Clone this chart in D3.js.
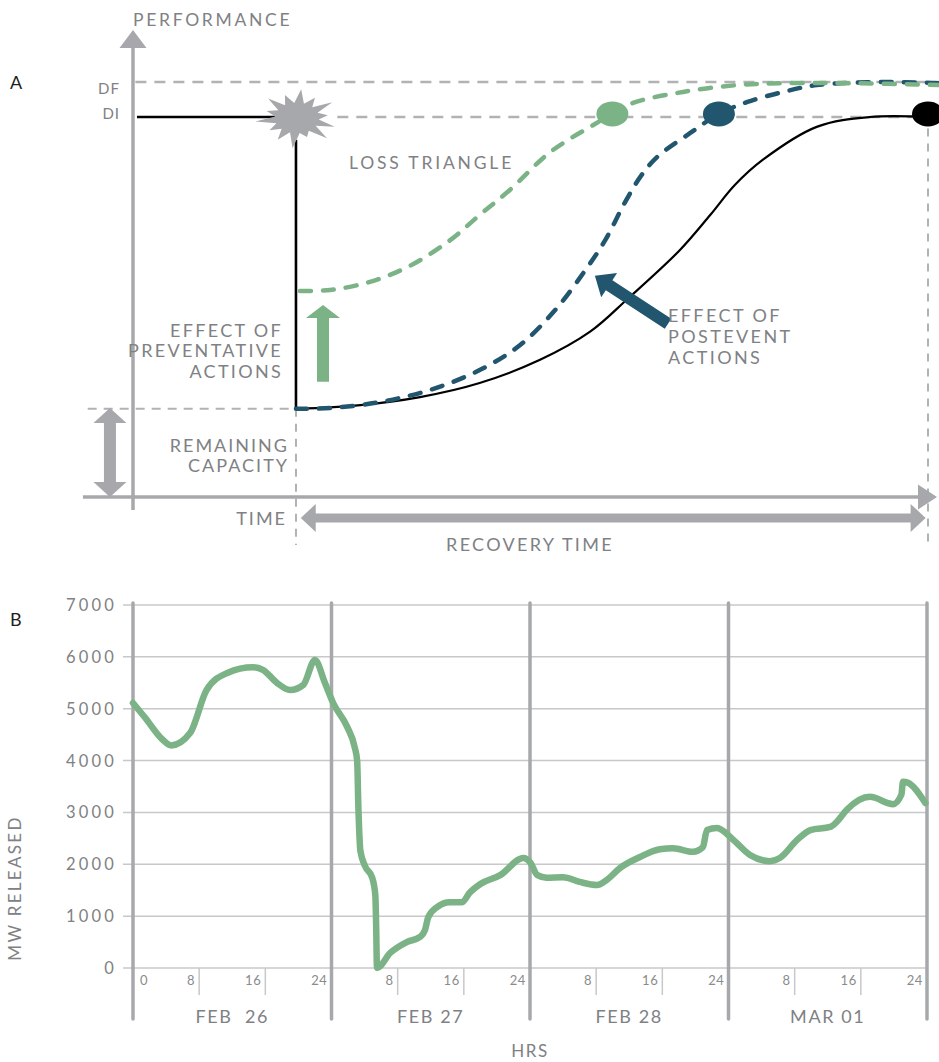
<!DOCTYPE html>
<html><head><meta charset="utf-8">
<script src="https://cdn.jsdelivr.net/npm/d3@7"></script>
<style>body{margin:0;background:#fff}svg{display:block}text{font-family:Lato,"Open Sans",sans-serif;white-space:pre}</style>
</head><body><svg id="c" width="939" height="1062"></svg>
<script>
// ---------- Panel A (conceptual resilience curve) ----------
const levelDI = 100, levelDF = 109.2, eventTime = 20.5, remainingCap = 23.2, recoveryEnd = 100;
const blackPreT = [0.5, 19];
const blackRecT = [20.5, 28.6, 36.1, 43.6, 51.2, 57.5, 62.3, 68.8, 72.6, 75.7, 79.2, 86.0, 92.7, 100];
const blackRecV = [23.2, 24.2, 26.3, 30.0, 36.1, 43.5, 52.3, 65.0, 74.2, 82.1, 88.7, 97.4, 100, 100];
const greenT = [21.0, 24.8, 29.8, 34.8, 39.9, 43.6, 47.4, 52.5, 57.9, 60.3, 62.9, 69.2, 76.0, 81.8, 90.2, 101.4];
const greenV = [54.2, 54.5, 56.6, 60.8, 67.6, 74.2, 80.8, 90.8, 97.9, 100.8, 103.7, 106.6, 108.4, 108.9, 108.9, 108.4];
const blueT = [20.5, 24.8, 31.1, 37.4, 43.6, 48.7, 53.1, 56.9, 59.4, 61.9, 63.9, 66.0, 70.1, 73.7, 77.2, 81.8, 86.0, 94.3, 101.4];
const blueV = [23.2, 23.4, 25.0, 28.2, 33.4, 40.0, 49.2, 59.7, 67.6, 77.6, 84.5, 89.6, 95.8, 100.8, 103.9, 106.6, 108.4, 109.2, 108.9];
const markerT = [60.3, 73.7, 100];
const markerV = [100.8, 100.8, 100.8];

// ---------- Panel B (MW released) ----------
const dayLabels = ["FEB  26", "FEB 27", "FEB 28", "MAR 01"];
const mwTicks = [0, 1000, 2000, 3000, 4000, 5000, 6000, 7000];
const hourTicks = [8, 16, 24];
const hours = [0, 1.4, 3.6, 4.6, 6.9, 8.9, 11.4, 14.5, 15.7, 17.4, 19.0, 20.6, 22.0, 23.2, 24.2, 25.9, 26.8, 27.1, 27.25, 27.5, 28.1, 28.9, 29.3, 29.4, 29.5, 31.1, 33.1, 34.7, 35.3, 35.7, 36.8, 38.3, 39.8, 40.7, 42.0, 44.4, 47.2, 48.0, 48.9, 50.0, 52.0, 54.0, 56.1, 57.3, 58.9, 61.3, 63.7, 65.3, 67.7, 68.9, 69.4, 70.6, 72.6, 74.6, 77.0, 78.2, 80.3, 81.9, 84.3, 85.1, 86.3, 89.1, 91.9, 92.9, 93.1, 93.7, 95.8];
const mw = [5110, 4840, 4400, 4290, 4530, 5360, 5690, 5800, 5750, 5500, 5360, 5460, 5940, 5500, 5110, 4650, 4260, 4000, 3100, 2250, 1950, 1750, 1400, 800, 0, 290, 500, 600, 730, 980, 1180, 1270, 1270, 1450, 1620, 1790, 2120, 2040, 1790, 1740, 1750, 1660, 1600, 1700, 1930, 2140, 2290, 2310, 2240, 2330, 2660, 2700, 2470, 2180, 2060, 2120, 2470, 2660, 2720, 2820, 3050, 3300, 3160, 3340, 3590, 3570, 3180];

const GREY = "#a7a8ab", TXT = "#808184", GREEN = "#7bb386", BLUE = "#22566f", LGRID = "#c8c8ca";
const svg = d3.select("#c");

function arrowPts(x1, y1, x2, y2, sw, hw, hl, dbl) {
  const dx = x2 - x1, dy = y2 - y1, L = Math.hypot(dx, dy), ux = dx / L, uy = dy / L, nx = -uy, ny = ux;
  const P = (x, y, a, b) => [x + nx * a + ux * b, y + ny * a + uy * b];
  const pts = [];
  if (dbl) {
    pts.push([x1, y1], P(x1, y1, hw / 2, hl), P(x1, y1, sw / 2, hl));
  } else {
    pts.push(P(x1, y1, sw / 2, 0));
  }
  pts.push(P(x2, y2, sw / 2, -hl), P(x2, y2, hw / 2, -hl), [x2, y2], P(x2, y2, -hw / 2, -hl), P(x2, y2, -sw / 2, -hl));
  if (dbl) pts.push(P(x1, y1, -sw / 2, hl), P(x1, y1, -hw / 2, hl));
  else pts.push(P(x1, y1, -sw / 2, 0));
  return pts;
}
function arrow(g, x1, y1, x2, y2, sw, hw, hl, color, dbl) {
  g.append("polygon").attr("points", arrowPts(x1, y1, x2, y2, sw, hw, hl, dbl).map(p => p.join(",")).join(" ")).attr("fill", color);
}
function label(x, y, txt, opts) {
  const o = Object.assign({ size: 17, anchor: "start", color: TXT, ls: 1.2 }, opts || {});
  return svg.append("text").attr("x", x).attr("y", y).attr("text-anchor", o.anchor).attr("fill", o.color)
    .attr("font-size", o.size).attr("letter-spacing", o.ls).text(txt);
}

// ===== Panel A =====
const xA = d3.scaleLinear().domain([0, 100]).range([133, 928]);
const yA = d3.scaleLinear().domain([0, 100]).range([497, 117]);
const gA = svg.append("g");

// reference dashed lines
gA.append("line").attr("x1", xA(0.3)).attr("x2", 939).attr("y1", yA(levelDF)).attr("y2", yA(levelDF))
  .attr("stroke", "#b1b2b4").attr("stroke-width", 2.5).attr("stroke-dasharray", "11,8");
gA.append("line").attr("x1", xA(eventTime + 5.2)).attr("x2", xA(recoveryEnd)).attr("y1", yA(levelDI)).attr("y2", yA(levelDI))
  .attr("stroke", "#b1b2b4").attr("stroke-width", 2.5).attr("stroke-dasharray", "11,8");
gA.append("line").attr("x1", xA(-5.7)).attr("x2", xA(eventTime)).attr("y1", yA(remainingCap)).attr("y2", yA(remainingCap))
  .attr("stroke", "#b1b2b4").attr("stroke-width", 2).attr("stroke-dasharray", "9,7");
gA.append("line").attr("x1", xA(eventTime)).attr("x2", xA(eventTime)).attr("y1", yA(remainingCap)).attr("y2", yA(-12.6))
  .attr("stroke", "#b1b2b4").attr("stroke-width", 2).attr("stroke-dasharray", "8,7");
gA.append("line").attr("x1", xA(recoveryEnd)).attr("x2", xA(recoveryEnd)).attr("y1", yA(97)).attr("y2", yA(-12.6))
  .attr("stroke", "#b1b2b4").attr("stroke-width", 2).attr("stroke-dasharray", "8,7");

// axes
gA.append("line").attr("x1", xA(0)).attr("x2", xA(0)).attr("y1", yA(-3.4)).attr("y2", 46).attr("stroke", GREY).attr("stroke-width", 3.5);
arrow(gA, xA(0), 60, xA(0), 30, 0, 27, 18, GREY, false);
gA.append("line").attr("x1", xA(-6.3)).attr("x2", 920).attr("y1", yA(0)).attr("y2", yA(0)).attr("stroke", GREY).attr("stroke-width", 3.5);
arrow(gA, 900, yA(0), 937, yA(0), 0, 25, 19, GREY, false);

// black performance line
const lineA = d3.line().x(d => xA(d[0])).y(d => yA(d[1])).curve(d3.curveCatmullRom.alpha(0.5));
gA.append("line").attr("x1", xA(blackPreT[0])).attr("x2", xA(blackPreT[1])).attr("y1", yA(levelDI)).attr("y2", yA(levelDI))
  .attr("stroke", "#000").attr("stroke-width", 2.6);
gA.append("line").attr("x1", xA(eventTime)).attr("x2", xA(eventTime)).attr("y1", yA(levelDI - 6)).attr("y2", yA(remainingCap))
  .attr("stroke", "#000").attr("stroke-width", 2.6);
gA.append("path").attr("d", lineA(blackRecT.map((t, i) => [t, blackRecV[i]]))).attr("fill", "none").attr("stroke", "#000").attr("stroke-width", 2.2);

// dashed recovery curves
gA.append("path").attr("d", lineA(blueT.map((t, i) => [t, blueV[i]]))).attr("fill", "none").attr("stroke", BLUE)
  .attr("stroke-width", 4.5).attr("stroke-dasharray", "11,12").attr("stroke-linecap", "round");
gA.append("path").attr("d", lineA(greenT.map((t, i) => [t, greenV[i]]))).attr("fill", "none").attr("stroke", GREEN)
  .attr("stroke-width", 4.5).attr("stroke-dasharray", "11,12").attr("stroke-linecap", "round");

// markers
const mColors = [GREEN, BLUE, "#000"];
markerT.forEach((t, i) => {
  gA.append("ellipse").attr("cx", xA(t)).attr("cy", yA(markerV[i])).attr("rx", 16).attr("ry", 12.5).attr("fill", mColors[i]);
});

// starburst at the event
(function () {
  const cx = xA(eventTime) + 1, cy = yA(levelDI) + 1, rx = 42, ry = 29;
  const mult = [1, 0.82, 1.0, 0.74, 0.95, 1.0, 0.7, 1.05, 0.88, 0.78, 1.0, 0.76, 0.96, 0.84];
  const n = mult.length, pts = [];
  for (let i = 0; i < n * 2; i++) {
    const a = -Math.PI / 2 + 0.1 + i * Math.PI / n;
    const r = i % 2 === 0 ? mult[i / 2] : 0.52;
    pts.push([cx + Math.cos(a) * rx * r, cy + Math.sin(a) * ry * r]);
  }
  gA.append("polygon").attr("points", pts.map(p => p.join(",")).join(" ")).attr("fill", GREY);
})();

// annotation arrows
arrow(gA, xA(23.9), yA(30.3), xA(23.9), yA(50.5), 12, 34, 13, GREEN, false);
arrow(gA, xA(67.3), yA(45.6), xA(58.1), yA(58.2), 12, 29, 17, BLUE, false);
arrow(gA, xA(-2.9), yA(23.4), xA(-2.9), yA(0), 12, 33, 15, GREY, true);
arrow(gA, xA(21.1), yA(-5.5), xA(99.7), yA(-5.5), 9, 28, 15, GREY, true);

// panel A text
label(10, 89, "A", { color: "#231f20", size: 18, ls: 0 });
label(133, 26, "PERFORMANCE", { size: 17.5, ls: 2.7 });
label(120, 94, "DF", { anchor: "end", size: 15, ls: 1 });
label(120, 119, "DI", { anchor: "end", size: 15, ls: 1 });
label(349, 169, "LOSS TRIANGLE", { size: 17.5, ls: 2.8 });
label(283, 337, "EFFECT OF", { anchor: "end", size: 18, ls: 2.3 });
label(283, 357, "PREVENTATIVE", { anchor: "end", size: 18, ls: 2.3 });
label(283, 378, "ACTIONS", { anchor: "end", size: 18, ls: 2.3 });
label(289, 452, "REMAINING", { anchor: "end", size: 18, ls: 2 });
label(289, 472, "CAPACITY", { anchor: "end", size: 18, ls: 2 });
label(287, 525, "TIME", { anchor: "end", size: 18, ls: 2 });
label(668, 322, "EFFECT OF", { size: 18, ls: 2.4 });
label(668, 343, "POSTEVENT", { size: 18, ls: 2.4 });
label(668, 364, "ACTIONS", { size: 18, ls: 2.4 });
label(530, 551, "RECOVERY TIME", { anchor: "middle", size: 18, ls: 2.3 });

// ===== Panel B =====
const xB = d3.scaleLinear().domain([0, 96]).range([133, 927]);
const yB = d3.scaleLinear().domain([0, 7000]).range([968, 605]);
const gB = svg.append("g");

gB.selectAll("line.grid").data(mwTicks).join("line").attr("class", "grid")
  .attr("x1", 123).attr("x2", 928).attr("y1", d => yB(d)).attr("y2", d => yB(d))
  .attr("stroke", LGRID).attr("stroke-width", 1.5);
gB.selectAll("text.ytick").data(mwTicks).join("text").attr("class", "ytick")
  .attr("x", 117).attr("y", d => yB(d)).attr("dy", "0.36em").attr("text-anchor", "end")
  .attr("fill", TXT).attr("font-size", 16.5).attr("letter-spacing", 3.2).text(d => d);

const days = d3.range(dayLabels.length);
days.forEach(d => {
  hourTicks.forEach(h => {
    if (h < 24) gB.append("line").attr("x1", xB(d * 24 + h)).attr("x2", xB(d * 24 + h)).attr("y1", yB(0)).attr("y2", 995)
      .attr("stroke", LGRID).attr("stroke-width", 1.5);
    gB.append("text").attr("x", xB(d * 24 + h) - 4).attr("y", 985).attr("text-anchor", "end")
      .attr("fill", "#8a8b8d").attr("font-size", 13).attr("letter-spacing", 0.6).text(h);
  });
  gB.append("text").attr("x", (xB(d * 24) + xB(d * 24 + 24)) / 2).attr("y", 1023).attr("text-anchor", "middle")
    .attr("fill", TXT).attr("font-size", 18).attr("letter-spacing", 1.6).text(dayLabels[d]);
});
gB.append("text").attr("x", xB(0) + 7).attr("y", 985).attr("fill", "#8a8b8d").attr("font-size", 13).text("0");

gB.selectAll("line.day").data(d3.range(dayLabels.length + 1)).join("line").attr("class", "day")
  .attr("x1", d => xB(d * 24)).attr("x2", d => xB(d * 24)).attr("y1", 603).attr("y2", 1019)
  .attr("stroke", GREY).attr("stroke-width", 3.5).attr("stroke-linecap", "round");

const lineB = d3.line().x(d => xB(d[0])).y(d => yB(d[1])).curve(d3.curveMonotoneX);
gB.append("path").attr("d", lineB(hours.map((h, i) => [h, mw[i]]))).attr("fill", "none").attr("stroke", GREEN)
  .attr("stroke-width", 6.5).attr("stroke-linejoin", "round").attr("stroke-linecap", "round");

label(10, 626, "B", { color: "#231f20", size: 18, ls: 0 });
label(530, 1057, "HRS", { anchor: "middle", size: 17, ls: 1.5 });
svg.append("text").attr("transform", "translate(21,888) rotate(-90)").attr("text-anchor", "middle")
  .attr("fill", TXT).attr("font-size", 17).attr("letter-spacing", 2.3).text("MW RELEASED");
</script></body></html>
